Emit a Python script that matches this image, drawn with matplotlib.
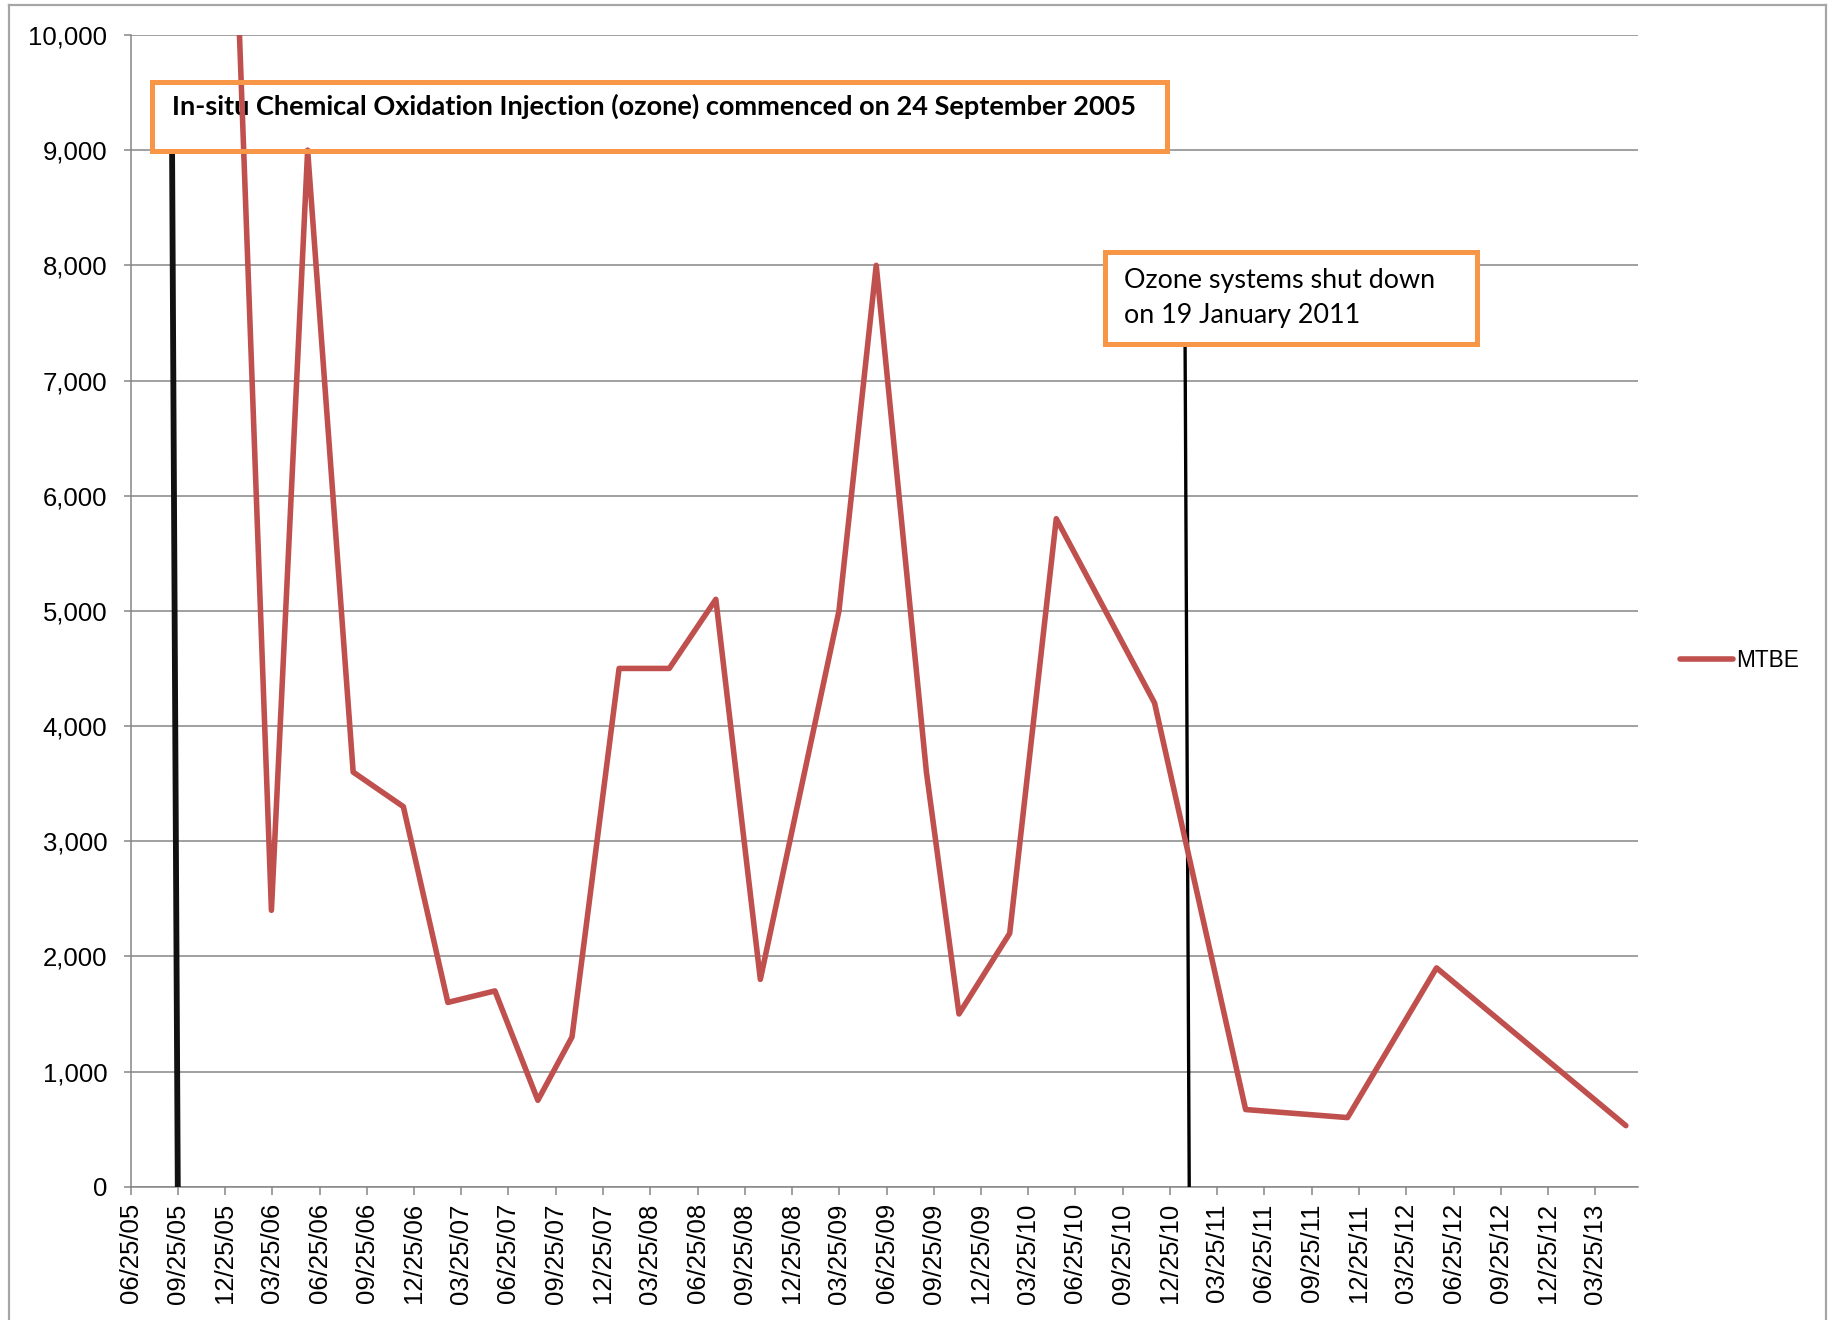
import pandas as pd
import matplotlib.pyplot as plt
import matplotlib.dates as mdates
import matplotlib.ticker as mticker
import matplotlib.patches as mpatches
from matplotlib.lines import Line2D

# MTBE concentrations
sample_dates = pd.to_datetime([
    "2006-01-05", "2006-03-24", "2006-06-02", "2006-08-29", "2006-12-04",
    "2007-02-28", "2007-05-30", "2007-08-21", "2007-10-26", "2008-01-25",
    "2008-05-01", "2008-07-30", "2008-10-24", "2009-03-25", "2009-06-05",
    "2009-09-10", "2009-11-12", "2010-02-18", "2010-05-19", "2010-11-25",
    "2011-05-20", "2011-12-03", "2012-05-23", "2013-05-24",
])
mtbe_values = [
    12000, 2400, 9000, 3600, 3300,
    1600, 1700, 750, 1300, 4500,
    4500, 5100, 1800, 5000, 8000,
    3600, 1500, 2200, 5800, 4200,
    670, 600, 1900, 530,
]

# hand drawn marker lines (top end, bottom end)
start_line_dates = pd.to_datetime(["2005-09-13", "2005-09-24"])
start_line_values = [8980, 0]
stop_line_dates = pd.to_datetime(["2011-01-23", "2011-01-31"])
stop_line_values = [7300, 0]

x_min, x_max = pd.Timestamp("2005-06-25"), pd.Timestamp("2013-06-17")

W, H = 1835, 1320
GRID = '#868686'
RED = '#C0504D'
ORANGE = '#F79646'

fig = plt.figure(figsize=(W / 100, H / 100), dpi=100)
ax = fig.add_axes([130.7 / W, 1 - 1186.7 / H, (1638.3 - 130.7) / W, (1186.7 - 35) / H])


def fit_width(txt, target_px):
    """подгоняем размер шрифта под ширину текста на оригинале"""
    fig.canvas.draw()
    w = txt.get_window_extent().width
    txt.set_fontsize(txt.get_fontsize() * target_px / w)


line, = ax.plot(sample_dates, mtbe_values, color=RED, lw=4,
                solid_capstyle='round', solid_joinstyle='round', zorder=4)

ax.plot(start_line_dates, start_line_values, color='#111111', lw=4.2, zorder=3)
ax.plot(stop_line_dates, stop_line_values, color='black', lw=2.4, zorder=3)

ax.set_xlim(x_min, x_max)
ax.set_ylim(0, 10000)
ax.yaxis.set_major_locator(mticker.MultipleLocator(1000))
ax.yaxis.set_major_formatter(mticker.FuncFormatter(lambda v, p: f'{v:,.0f}'))
ax.xaxis.set_major_locator(mdates.MonthLocator(bymonth=[3, 6, 9, 12], bymonthday=25))
ax.xaxis.set_major_formatter(mdates.DateFormatter('%m/%d/%y'))

ax.yaxis.grid(True, color=GRID, lw=1.1)
ax.set_axisbelow(True)
for side in ['top', 'right']:
    ax.spines[side].set_visible(False)
for side in ['left', 'bottom']:
    ax.spines[side].set_color(GRID)
    ax.spines[side].set_linewidth(1.1)

ax.tick_params(axis='both', colors=GRID, length=5.4, width=1.1,
               labelcolor='black', labelsize=18.5)
ax.tick_params(axis='x', pad=6.5, labelrotation=90)
ax.tick_params(axis='y', pad=11.5)
for lab in ax.get_xticklabels() + ax.get_yticklabels():
    lab.set_fontfamily('Liberation Sans')

# рамки с подписями
box1 = mpatches.Rectangle((0.0140, 0.8995), 0.6737, 0.0599, transform=ax.transAxes,
                          fill=False, edgecolor=ORANGE, lw=3.6, zorder=5, clip_on=False)
ax.add_patch(box1)
t1 = ax.text(0.0272, 0.9305,
             'In-situ Chemical Oxidation Injection (ozone) commenced on 24 September 2005',
             transform=ax.transAxes, fontfamily='Lato', fontweight='bold', fontsize=18,
             va='baseline', ha='left', zorder=3)

box2 = mpatches.Rectangle((0.6464, 0.7321), 0.2469, 0.0797, transform=ax.transAxes,
                          facecolor='white', edgecolor=ORANGE, lw=3.6, zorder=5, clip_on=False)
ax.add_patch(box2)
t2 = ax.text(0.6591, 0.7801, 'Ozone systems shut down', transform=ax.transAxes,
             fontfamily='Lato', fontsize=18, va='baseline', ha='left', zorder=6)
t3 = ax.text(0.6591, 0.7497, 'on 19 January 2011', transform=ax.transAxes,
             fontfamily='Lato', fontsize=18, va='baseline', ha='left', zorder=6)

fit_width(t1, 969)
fit_width(t2, 310)
t3.set_fontsize(t2.get_fontsize())

# легенда справа
fig.legend(handles=[Line2D([], [], color=RED, lw=4, solid_capstyle='round')],
           labels=['MTBE'], loc='center left', bbox_to_anchor=(1680 / W, 1 - 660.7 / H),
           frameon=False, borderpad=0, borderaxespad=0, handlelength=2.35,
           handletextpad=0.15, prop={'family': 'Liberation Sans', 'size': 16.3})

# серая рамка всей диаграммы
border_kw = dict(color='#a6a6a6', lw=1.6, transform=None)
fig.add_artist(Line2D([9, 9], [H - 5, 0], **border_kw))
fig.add_artist(Line2D([9, 1826], [H - 5, H - 5], **border_kw))
fig.add_artist(Line2D([1826, 1826], [H - 5, 0], **border_kw))

fig.savefig('out.png', dpi=100)
